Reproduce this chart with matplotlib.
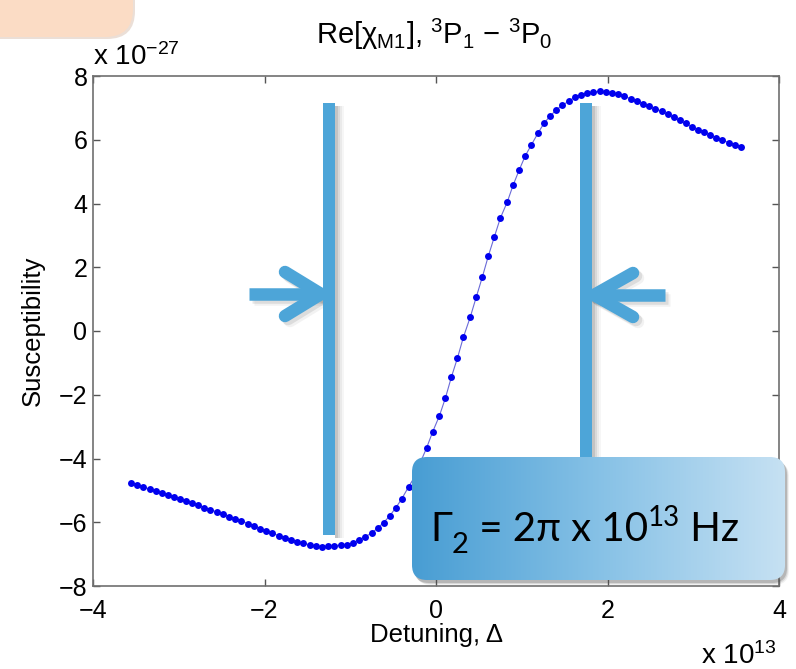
import numpy as np
import matplotlib
matplotlib.use('Agg')
import matplotlib.pyplot as plt
from matplotlib.patches import FancyBboxPatch, Rectangle
from matplotlib.colors import LinearSegmentedColormap

plt.rcParams['font.family'] = ['Liberation Sans', 'DejaVu Sans']
plt.rcParams['mathtext.fontset'] = 'custom'
plt.rcParams['mathtext.rm'] = 'Liberation Sans'
plt.rcParams['mathtext.it'] = 'Liberation Sans:italic'
plt.rcParams['mathtext.bf'] = 'Liberation Sans:bold'

# detuning in units of 1e13, susceptibility in units of 1e-27
detuning = [
    -3.56, -3.49, -3.42, -3.34, -3.27, -3.20, -3.13, -3.06, -2.98, -2.91,
    -2.84, -2.77, -2.70, -2.63, -2.55, -2.48, -2.41, -2.34, -2.27, -2.19,
    -2.12, -2.05, -1.98, -1.91, -1.83, -1.76, -1.69, -1.62, -1.55, -1.47,
    -1.40, -1.33, -1.26, -1.19, -1.11, -1.04, -0.97, -0.90, -0.83, -0.75,
    -0.68, -0.61, -0.54, -0.47, -0.40, -0.32, -0.25, -0.18, -0.11, -0.04,
    0.04, 0.11, 0.18, 0.25, 0.32, 0.40, 0.47, 0.54, 0.61, 0.68,
    0.75, 0.83, 0.90, 0.97, 1.04, 1.11, 1.19, 1.26, 1.33, 1.40,
    1.47, 1.55, 1.62, 1.69, 1.76, 1.83, 1.91, 1.98, 2.05, 2.12,
    2.19, 2.27, 2.34, 2.41, 2.48, 2.55, 2.63, 2.70, 2.77, 2.84,
    2.91, 2.98, 3.06, 3.13, 3.20, 3.27, 3.34, 3.42, 3.49, 3.56,
]
chi = [
    -4.76, -4.83, -4.89, -4.96, -5.02, -5.09, -5.15, -5.21, -5.27, -5.34,
    -5.40, -5.47, -5.54, -5.61, -5.68, -5.75, -5.82, -5.89, -5.96, -6.04,
    -6.12, -6.20, -6.28, -6.35, -6.42, -6.48, -6.55, -6.61, -6.66, -6.71,
    -6.75, -6.77, -6.76, -6.73, -6.72, -6.70, -6.65, -6.55, -6.46, -6.34,
    -6.18, -6.01, -5.80, -5.55, -5.27, -4.89, -4.58, -4.11, -3.67, -3.17,
    -2.66, -2.10, -1.44, -0.85, -0.19, 0.44, 1.07, 1.69, 2.35, 2.95,
    3.54, 4.04, 4.58, 5.05, 5.49, 5.83, 6.21, 6.52, 6.74, 6.93,
    7.08, 7.21, 7.34, 7.40, 7.46, 7.49, 7.52, 7.50, 7.47, 7.42,
    7.36, 7.29, 7.21, 7.13, 7.05, 6.97, 6.90, 6.80, 6.71, 6.61,
    6.51, 6.41, 6.32, 6.24, 6.14, 6.06, 5.98, 5.91, 5.84, 5.78,
]
xticks = [-4, -2, 0, 2, 4]
yticks = [-8, -6, -4, -2, 0, 2, 4, 6, 8]

W, H = 796, 669
fig = plt.figure(figsize=(W / 100, H / 100), dpi=100)
ax = fig.add_axes([93 / W, 1 - 586 / H, 686 / W, 510 / H])
ax.plot(detuning, chi, '-', color='#6a6ad8', lw=0.8, zorder=2)
ax.plot(detuning, chi, 'o', color='#0000ee', ms=5, mec='none', zorder=3)
ax.set_xlim(-4, 4)
ax.set_ylim(-8, 8)
ax.set_xticks(xticks)
ax.set_yticks(yticks)
ax.tick_params(direction='in', top=True, right=True, length=5, width=1,
               color='#555555', labelsize=18, labelcolor='black')
ax.tick_params(axis='x', pad=9)
ax.tick_params(axis='y', pad=4)
for sp in ax.spines.values():
    sp.set_color('#707070')
    sp.set_linewidth(1.2)

# overlay in pixel coordinates for the slide decorations
ov = fig.add_axes([0, 0, 1, 1], zorder=5)
ov.patch.set_visible(False)
ov.axis('off')

# texts of the matlab figure
ov.text(434, 44, r'Re[$\mathrm{\chi}_{\rm M1}$], $^3$P$_1$ $-$ $^3$P$_0$',
        ha='center', va='baseline', fontsize=21)
ov.text(93, 65, r'x 10$^{-27}$', ha='left', va='baseline', fontsize=20)
ov.text(701, 664, r'x 10$^{13}$', ha='left', va='baseline', fontsize=20)
ov.text(436, 642, 'Detuning, Δ', ha='center', va='baseline', fontsize=18.5)
ov.text(33, 331, 'Susceptibility', ha='center', va='center', rotation=90, fontsize=18.5)

# peach tab in top-left corner
ov.add_patch(FancyBboxPatch((-40, -40), 175, 79, boxstyle='round,pad=0,rounding_size=28',
                            fc='#d8c0b0', ec='none', alpha=0.5, zorder=1))
ov.add_patch(FancyBboxPatch((-40, -40), 173, 77, boxstyle='round,pad=0,rounding_size=28',
                            fc='#fbdcc5', ec='none', zorder=2))

bar_color = '#4da5d8'


def bar(xc, y0, y1):
    for k, a in enumerate([0.18, 0.12, 0.08, 0.05]):
        ov.add_patch(Rectangle((xc + 6, y0 + 3), 3 + 2 * k, y1 - y0, fc='#606060',
                               ec='none', alpha=a, zorder=3))
    ov.add_patch(Rectangle((xc - 6, y0), 12, y1 - y0, fc=bar_color, ec='none', zorder=4))


def arrow(x_tail, x_tip, y, arm_x):
    for dx, a in [(3, 0.15), (5, 0.08)]:
        ov.plot([x_tail + dx, x_tip + dx], [y + dx, y + dx], color='#606060', lw=9,
                alpha=a, solid_capstyle='butt', zorder=3)
        for ay in (y - 22, y + 22):
            ov.plot([arm_x + dx, x_tip + dx], [ay + dx, y + dx], color='#606060', lw=9,
                    alpha=a, solid_capstyle='round', zorder=3)
    ov.plot([x_tail, x_tip], [y, y], color=bar_color, lw=9,
            solid_capstyle='butt', zorder=5)
    for ay in (y - 22, y + 22):
        ov.plot([arm_x, x_tip], [ay, y], color=bar_color, lw=9,
                solid_capstyle='round', zorder=5)


bar(329, 103, 535)
bar(586, 103, 470)
arrow(249, 321, 294, 285)
arrow(665, 594, 295, 633)

# annotation box with gradient
bx, by, bw, bh = 412, 457, 373, 123
for k, a in enumerate([0.25, 0.15, 0.08]):
    ov.add_patch(FancyBboxPatch((bx + 2 + k, by + 3 + k), bw, bh,
                                boxstyle='round,pad=0,rounding_size=15',
                                fc='#505050', ec='none', alpha=a, zorder=8))
box = FancyBboxPatch((bx, by), bw, bh, boxstyle='round,pad=0,rounding_size=15',
                     fc='none', ec='none', zorder=9)
ov.add_patch(box)
cmap = LinearSegmentedColormap.from_list('g', ['#489dd3', '#86c1e6', '#c6e1f3'])
img = ov.imshow(np.linspace(0, 1, 256).reshape(1, -1), cmap=cmap, aspect='auto',
                extent=(bx, bx + bw, by + bh, by), zorder=9, interpolation='bilinear')
img.set_clip_path(box)

base = ov.text(430, 548, 'Γ', fontsize=29, family=['Lato', 'DejaVu Sans'],
               ha='left', va='bottom', zorder=12)
prev = base
for s, size, dy in [('2', 21, -7.5), (' = 2π x 10', 29, 0), ('13', 20, 12), (' Hz', 29, 0)]:
    prev = ov.annotate(s, xy=(1, 0), xycoords=(prev, base), xytext=(0, dy),
                       textcoords='offset points', fontsize=size,
                       family=['Lato', 'DejaVu Sans'], ha='left', va='bottom', zorder=12)

ov.set_xlim(0, W)
ov.set_ylim(H, 0)

fig.savefig('out.png', dpi=100)
